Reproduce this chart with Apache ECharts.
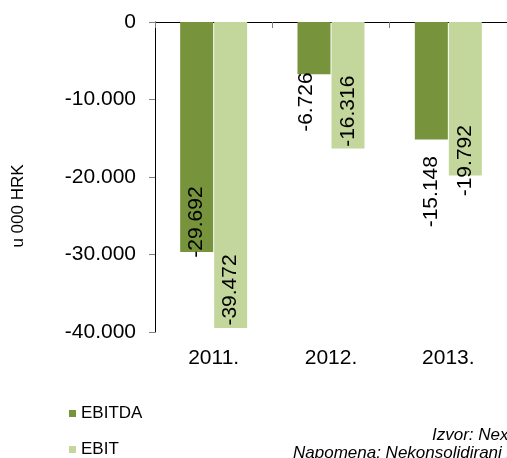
<!DOCTYPE html>
<html>
<head>
<meta charset="utf-8">
<script src="https://cdn.jsdelivr.net/npm/echarts@6/dist/echarts.min.js"></script>
<style>
  html, body { margin: 0; padding: 0; background: #fff; }
  #main { width: 507px; height: 458px; }
</style>
</head>
<body>
<div id="main"></div>
<script>
const years = ["2011.", "2012.", "2013."];
const ebitda = [-29692, -6726, -15148];
const ebit = [-39472, -16316, -19792];
const yTicks = [0, -10000, -20000, -30000, -40000];

// where each value label sits relative to the bar middle, in px [down, right]
const ebitdaLabelShift = [[85, 0], [54, -8], [111, 0]];
const ebitLabelShift = [[115, 0], [26, 0], [62, 0]];

// 12345 -> "12.345"
function fmt(v) {
  if (v === 0) return "0";
  const s = String(Math.abs(v)).replace(/\B(?=(\d{3})+(?!\d))/g, ".");
  return (v < 0 ? "-" : "") + s;
}

// label is rotated 90deg, so the offset is given in the rotated frame
function withShift(values, shifts) {
  return values.map((v, i) => ({
    value: v,
    label: { offset: [-shifts[i][0], shifts[i][1]] }
  }));
}

const chart = echarts.init(document.getElementById("main"));
const font = "Liberation Sans, Arial, sans-serif";

const option = {
  animation: false,
  textStyle: { fontFamily: font },
  grid: { left: 155, right: -6, top: 22, bottom: 126, containLabel: false },
  legend: {
    orient: "vertical",
    left: 69,
    top: 405,
    padding: 0,
    icon: "rect",
    itemWidth: 7,
    itemHeight: 7,
    itemGap: 19,
    textStyle: { fontSize: 17, color: "#000", fontFamily: font },
    data: ["EBITDA", "EBIT"]
  },
  xAxis: [
    {
      type: "category",
      data: years,
      position: "bottom",
      axisLine: { show: false, onZero: false },
      axisTick: { show: false },
      axisLabel: { fontSize: 21, color: "#000", margin: 16, fontFamily: font }
    },
    {
      type: "category",
      data: years,
      position: "top",
      axisLine: { show: true, lineStyle: { color: "#000", width: 1 } },
      axisTick: { show: true, inside: true, length: 6, lineStyle: { color: "#808080" } },
      axisLabel: { show: false }
    }
  ],
  yAxis: {
    type: "value",
    min: yTicks[yTicks.length - 1],
    max: yTicks[0],
    interval: 10000,
    axisLine: { show: true, onZero: false, lineStyle: { color: "#000", width: 1 } },
    axisTick: { show: true, length: 6, lineStyle: { color: "#808080" } },
    splitLine: { show: false },
    axisLabel: { fontSize: 21, color: "#000", margin: 19, formatter: fmt, fontFamily: font }
  },
  series: [
    {
      name: "EBITDA",
      type: "bar",
      xAxisIndex: 0,
      barWidth: 33,
      barGap: "3%",
      itemStyle: { color: "#77933C" },
      label: {
        show: true,
        position: "inside",
        rotate: 90,
        fontSize: 21,
        color: "#000",
        fontFamily: font,
        formatter: p => fmt(p.value)
      },
      data: withShift(ebitda, ebitdaLabelShift)
    },
    {
      name: "EBIT",
      type: "bar",
      xAxisIndex: 0,
      barWidth: 33,
      barGap: "3%",
      itemStyle: { color: "#C3D69B" },
      label: {
        show: true,
        position: "inside",
        rotate: 90,
        fontSize: 21,
        color: "#000",
        fontFamily: font,
        formatter: p => fmt(p.value)
      },
      data: withShift(ebit, ebitLabelShift)
    }
  ],
  graphic: [
    {
      type: "text",
      x: 18,
      y: 206,
      rotation: Math.PI / 2,
      style: {
        text: "u 000 HRK",
        fontSize: 17,
        fontFamily: font,
        fill: "#000",
        align: "center",
        verticalAlign: "middle"
      }
    },
    {
      type: "text",
      x: 432,
      y: 435,
      style: {
        text: "Izvor: Nexe Grupa",
        fontSize: 17,
        fontStyle: "italic",
        fontFamily: font,
        fill: "#000",
        align: "left",
        verticalAlign: "middle"
      }
    },
    {
      type: "text",
      x: 293,
      y: 453,
      style: {
        text: "Napomena: Nekonsolidirani podaci",
        fontSize: 17,
        fontStyle: "italic",
        fontFamily: font,
        fill: "#000",
        align: "left",
        verticalAlign: "middle"
      }
    }
  ]
};

chart.setOption(option);
</script>
</body>
</html>
